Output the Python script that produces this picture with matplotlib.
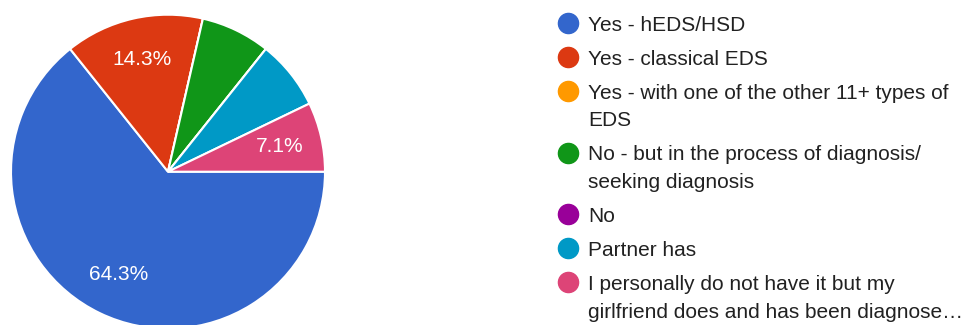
import matplotlib
matplotlib.use('Agg')
import matplotlib.pyplot as plt

# survey answers (counts out of 14 responses)
categories = [
    'Yes - hEDS/HSD',
    'Yes - classical EDS',
    'Yes - with one of the other 11+ types of\nEDS',
    'No - but in the process of diagnosis/\nseeking diagnosis',
    'No',
    'Partner has',
    'I personally do not have it but my\ngirlfriend does and has been diagnose\u2026',
]
counts = [9, 2, 0, 1, 0, 1, 1]
show_pct = [True, True, False, False, False, False, True]
colors = ['#3366cc', '#dc3912', '#ff9900', '#109618', '#990099', '#0099c6', '#dd4477']

plt.rcParams['font.family'] = ['Liberation Sans', 'DejaVu Sans']

W, H = 966, 325
fig = plt.figure(figsize=(W / 100, H / 100), dpi=100)

# pie: center (168, 171.7) px, radius 157 px
cx, cy, r = 168, 171.7, 157
ax = fig.add_axes([(cx - r) / W, (H - cy - r) / H, 2 * r / W, 2 * r / H])
wedges, texts, autotexts = ax.pie(
    counts, colors=colors, startangle=0, counterclock=False,
    autopct='%.1f%%', pctdistance=0.73,
    wedgeprops=dict(edgecolor='white', linewidth=1.5),
    textprops=dict(color='white', fontsize=15),
)
for w in wedges:
    w.set_clip_on(False)
for t, s in zip(autotexts, show_pct):
    if not s:
        t.set_text('')
ax.set_xlim(-1, 1)
ax.set_ylim(-1, 1)
ax.axis('off')

# legend drawn by hand so the dot lines up with the first text line
dot_x, text_x = 568, 588
y = 23
for lab, col in zip(categories, colors):
    fig.add_artist(plt.Line2D([dot_x / W], [(H - y) / H], marker='o', markersize=14.5,
                              color=col, linestyle='none', transform=fig.transFigure))
    lines = lab.split('\n')
    for i, ln in enumerate(lines):
        fig.text(text_x / W, (H - (y + i * 27.5 + 8)) / H, ln, fontsize=15,
                 color='#212121', va='baseline', ha='left')
    y += 34 + 27.5 * (len(lines) - 1)

fig.savefig('out.png', dpi=100)
